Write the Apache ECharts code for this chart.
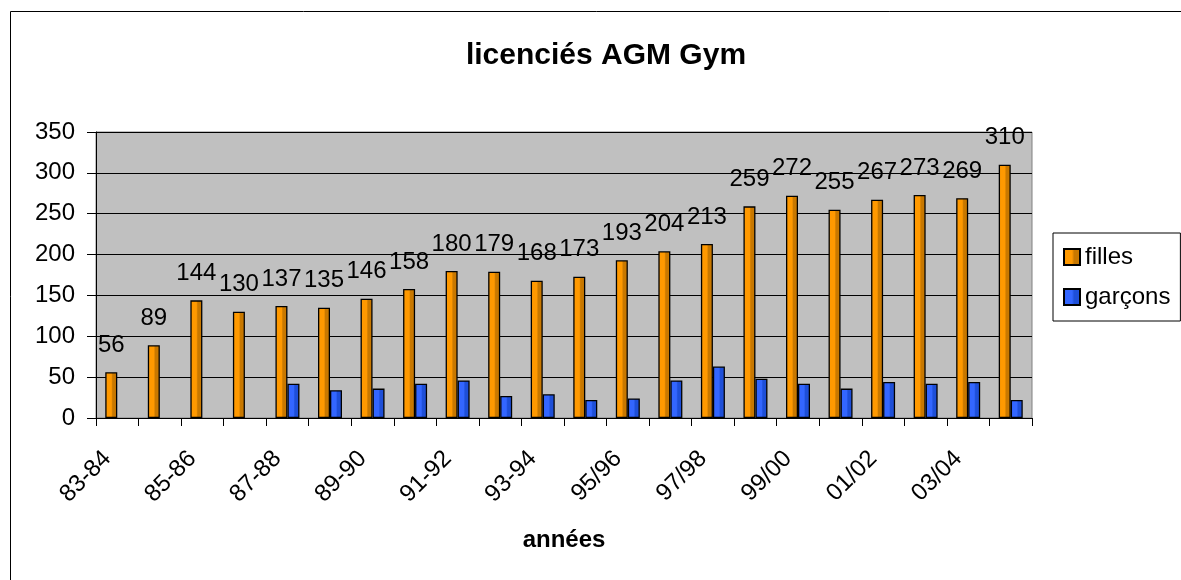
<!DOCTYPE html>
<html><head><meta charset="utf-8">
<script src="https://cdn.jsdelivr.net/npm/echarts@6/dist/echarts.min.js"></script>
<style>html,body{margin:0;padding:0;background:#fff;}#c{width:1181px;height:580px;}</style>
</head><body><div id="c"></div>
<script>
const categories = ['83-84','84-85','85-86','86-87','87-88','88-89','89-90','90-91','91-92','92-93','93-94','94-95','95/96','96/97','97/98','98/99','99/00','00/01','01/02','02/03','03/04','04/05'];
const filles = [56,89,144,130,137,135,146,158,180,179,168,173,193,204,213,259,272,255,267,273,269,310];
const garcons = [null,null,null,null,42,34,36,42,46,27,29,22,24,46,63,48,42,36,44,42,44,22];
const yTicks = {min:0, max:350, interval:50};
const FONT = '"Liberation Sans", Arial, sans-serif';

function grad(c1, c2) {
  return new echarts.graphic.LinearGradient(0,0,1,0,[
    {offset:0, color:c1},{offset:0.5, color:c1},{offset:0.62, color:c2},{offset:0.85, color:c2},{offset:1, color:c1}
  ]);
}
const chart = echarts.init(document.getElementById('c'), null, {renderer:'canvas'});
chart.setOption({
  animation:false,
  backgroundColor:'#fff',
  textStyle:{fontFamily:FONT},
  graphic:[{type:'rect', shape:{x:10.5,y:11.5,width:1300,height:700}, style:{fill:'none', stroke:'#000', lineWidth:1}, silent:true, z:-10}],
  title:{text:'licenciés AGM Gym', left:601, top:36, textAlign:'center',
    textStyle:{fontFamily:FONT, fontSize:30, fontWeight:'bold', color:'#000'}},
  legend:{left:1053, top:233, orient:'vertical', padding:[12,10,12,10], itemGap:16,
    itemWidth:16, itemHeight:16, icon:'rect', borderColor:'#000', borderWidth:1,
    textStyle:{fontFamily:FONT, fontSize:24, color:'#000'}, data:['filles','garçons']},
  grid:{left:96, top:132, width:936, height:286, show:true, backgroundColor:'#C0C0C0', borderColor:'#808080', borderWidth:1},
  xAxis:{type:'category', data:categories,
    axisLine:{lineStyle:{color:'#000', width:1}},
    axisTick:{show:true, interval:0, length:8, lineStyle:{color:'#000'}},
    axisLabel:{interval:1, rotate:45, margin:27, padding:[0,14,0,0], fontFamily:FONT, fontSize:24, color:'#000'},
    name:'années', nameLocation:'middle', nameGap:110,
    nameTextStyle:{fontFamily:FONT, fontSize:24, fontWeight:'bold', color:'#000'}},
  yAxis:{type:'value', min:yTicks.min, max:yTicks.max, interval:yTicks.interval,
    axisLine:{show:true, lineStyle:{color:'#000'}},
    axisTick:{show:true, length:9, lineStyle:{color:'#000'}},
    axisLabel:{margin:21, fontFamily:FONT, fontSize:24, color:'#000'},
    splitLine:{lineStyle:{color:'#000', width:1}}},
  series:[
    {name:'filles', type:'bar', data:filles, barWidth:12, barGap:'0%',
     itemStyle:{color:grad('#FF9900','#C87800'), borderColor:'#000', borderWidth:1.3},
     label:{show:true, position:'top', distance:15, fontFamily:FONT, fontSize:24, color:'#000'}},
    {name:'garçons', type:'bar', data:garcons, barWidth:12, barGap:'0%',
     itemStyle:{color:grad('#3366FF','#1E4FD8'), borderColor:'#000', borderWidth:1.3}}
  ]
});
</script></body></html>
